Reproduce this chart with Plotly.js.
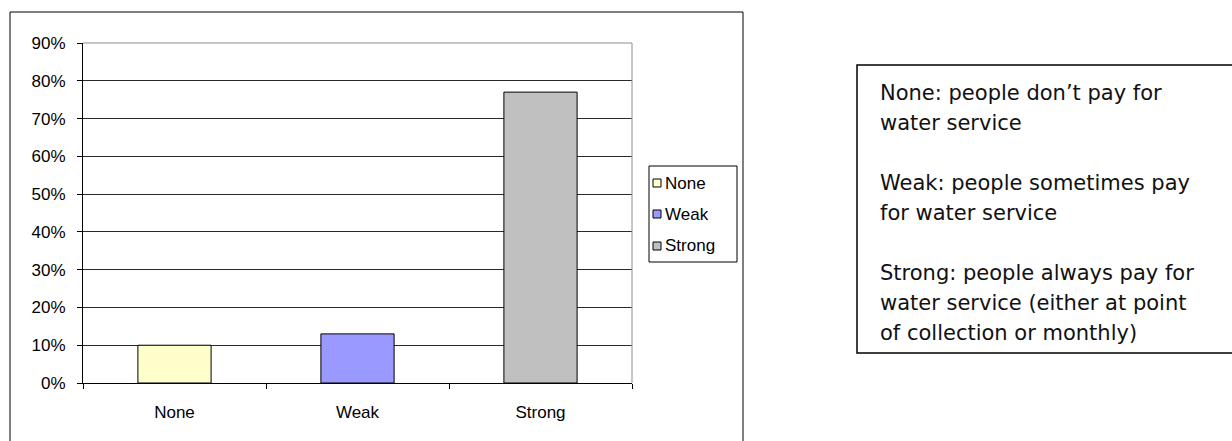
<!DOCTYPE html>
<html>
<head>
<meta charset="utf-8">
<script src="https://cdn.plot.ly/plotly-3.0.1.min.js"></script>
<style>
  html, body { margin: 0; padding: 0; background: #ffffff; }
  #chart { width: 1232px; height: 441px; }
</style>
</head>
<body>
<div id="chart"></div>
<script>
// Share of communities by strength of payment culture for water service
const categories = ['None', 'Weak', 'Strong'];
const shares = [0.10, 0.13, 0.77];
const barColors = ['#FFFFCC', '#9999FF', '#C0C0C0'];
const yTickValues = [0, 0.1, 0.2, 0.3, 0.4, 0.5, 0.6, 0.7, 0.8, 0.9];
const yTickLabels = ['0%', '10%', '20%', '30%', '40%', '50%', '60%', '70%', '80%', '90%'];
const noteLines = [
  'None: people don\u2019t pay for',
  'water service',
  '',
  'Weak: people sometimes pay',
  'for water service',
  '',
  'Strong: people always pay for',
  'water service (either at point',
  'of collection or monthly)'
];

const W = 1232, H = 441;
const px = x => x / W;
const py = y => 1 - y / H;

const axisFont = { family: 'Liberation Sans, Arial, sans-serif', size: 17, color: '#000000' };
const noteFont = { family: 'DejaVu Sans, sans-serif', size: 21, color: '#111111' };

const trace = {
  type: 'bar',
  x: categories,
  y: shares,
  width: 0.4,
  marker: { color: barColors, line: { color: '#000000', width: 1 } },
  showlegend: false,
  hoverinfo: 'x+y'
};

const shapes = [
  // outer chart frame
  { type: 'rect', xref: 'paper', yref: 'paper', x0: px(10), x1: px(743), y0: py(12), y1: py(460),
    line: { color: '#000000', width: 1 }, fillcolor: 'rgba(0,0,0,0)', layer: 'below' },
  // plot-area border (top and right edges in grey)
  { type: 'line', xref: 'paper', yref: 'paper', x0: px(83), x1: px(632), y0: py(43), y1: py(43),
    line: { color: '#8c8c8c', width: 1 } },
  { type: 'line', xref: 'paper', yref: 'paper', x0: px(632), x1: px(632), y0: py(43), y1: py(383),
    line: { color: '#8c8c8c', width: 1 } },
  // legend frame
  { type: 'rect', xref: 'paper', yref: 'paper', x0: px(649), x1: px(737), y0: py(166), y1: py(262),
    line: { color: '#000000', width: 1 }, fillcolor: '#ffffff' },
  // definitions box
  { type: 'rect', xref: 'paper', yref: 'paper', x0: px(857), x1: px(1240), y0: py(65), y1: py(353),
    line: { color: '#000000', width: 1.5 }, fillcolor: '#ffffff' }
];

const annotations = [];
const legendRows = [183, 214, 246];
categories.forEach((name, i) => {
  shapes.push({
    type: 'rect', xref: 'paper', yref: 'paper',
    x0: px(653), x1: px(661), y0: py(legendRows[i] + 4), y1: py(legendRows[i] - 4),
    line: { color: '#000000', width: 1 }, fillcolor: barColors[i]
  });
  annotations.push({
    xref: 'paper', yref: 'paper', x: px(663), y: py(legendRows[i]),
    xanchor: 'left', yanchor: 'middle', showarrow: false,
    text: name, font: axisFont
  });
});

noteLines.forEach((line, i) => {
  if (!line) return;
  annotations.push({
    xref: 'paper', yref: 'paper', x: px(878), y: py(93 + i * 30),
    xanchor: 'left', yanchor: 'middle', showarrow: false,
    text: line, font: noteFont
  });
});

const layout = {
  width: W, height: H,
  margin: { l: 0, r: 0, t: 0, b: 0 },
  paper_bgcolor: '#ffffff',
  plot_bgcolor: '#ffffff',
  showlegend: false,
  xaxis: {
    domain: [px(83), px(632)],
    type: 'category',
    range: [-0.5, 2.5],
    showgrid: false,
    zeroline: false,
    showline: true, linecolor: '#000000', linewidth: 1,
    ticks: 'outside', tickson: 'boundaries', ticklen: 5, tickcolor: '#000000', tickwidth: 1,
    tickfont: axisFont,
    ticklabelstandoff: 14,
    fixedrange: true
  },
  yaxis: {
    domain: [py(383), py(43)],
    range: [0, 0.9],
    tickvals: yTickValues,
    ticktext: yTickLabels,
    showgrid: true, gridcolor: '#2a2a2a', gridwidth: 1,
    zeroline: false,
    showline: true, linecolor: '#000000', linewidth: 1,
    ticks: 'outside', ticklen: 5, tickcolor: '#000000', tickwidth: 1,
    tickfont: axisFont,
    ticklabelstandoff: 8,
    fixedrange: true
  },
  shapes: shapes,
  annotations: annotations
};

Plotly.newPlot('chart', [trace], layout, { displayModeBar: false, staticPlot: true });
</script>
</body>
</html>
